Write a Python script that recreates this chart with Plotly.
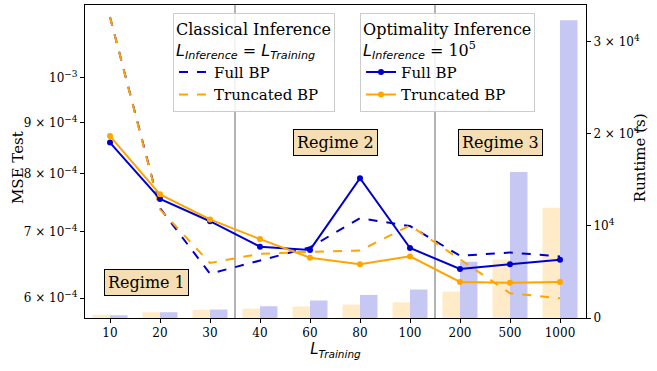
import plotly.graph_objects as go
import math

categories = ["10", "20", "30", "40", "60", "80", "100", "200", "500", "1000"]

# MSE, classical inference (dashed)
mse_classical_full = [1.15e-3, 7.39e-4, 6.35e-4, 6.55e-4, 6.75e-4, 7.22e-4, 7.09e-4, 6.62e-4, 6.67e-4, 6.61e-4]
mse_classical_trunc = [1.15e-3, 7.37e-4, 6.51e-4, 6.65e-4, 6.68e-4, 6.70e-4, 7.10e-4, 6.56e-4, 6.07e-4, 6.00e-4]

# MSE, optimality inference (solid)
mse_opt_full = [8.60e-4, 7.55e-4, 7.17e-4, 6.76e-4, 6.71e-4, 7.92e-4, 6.74e-4, 6.42e-4, 6.49e-4, 6.56e-4]
mse_opt_trunc = [8.73e-4, 7.63e-4, 7.20e-4, 6.88e-4, 6.59e-4, 6.49e-4, 6.61e-4, 6.23e-4, 6.22e-4, 6.23e-4]

# Runtime (s)
runtime_full = [300, 630, 920, 1280, 1900, 2510, 3090, 6120, 15870, 32340]
runtime_trunc = [350, 630, 890, 1030, 1250, 1460, 1710, 2870, 6340, 11970]

SUP = "<sup><span style='font-size:9px'>{}</span></sup>"
left_ticks = [6e-4, 7e-4, 8e-4, 9e-4, 1e-3]
left_ticktext = ["6 × 10" + SUP.format("−4"), "7 × 10" + SUP.format("−4"),
                 "8 × 10" + SUP.format("−4"), "9 × 10" + SUP.format("−4"),
                 "10" + SUP.format("−3")]
right_ticks = [0, 1e4, 2e4, 3e4]
right_ticktext = ["0", "10" + SUP.format("4"), "2 × 10" + SUP.format("4"),
                  "3 × 10" + SUP.format("4")]

BLUE = "#0000CD"
ORANGE = "#FFA500"
SERIF = "DejaVu Serif"
MATH = "<span style='font-family:DejaVu Sans'>"

xs = list(range(len(categories)))

fig = go.Figure()

# Bars (runtime) on primary y (right side)
fig.add_trace(go.Bar(x=xs, y=runtime_trunc, width=0.35, offset=-0.35,
                     marker=dict(color="rgba(255,165,0,0.22)", line=dict(width=0)),
                     showlegend=False, yaxis="y"))
fig.add_trace(go.Bar(x=xs, y=runtime_full, width=0.35, offset=0,
                     marker=dict(color="rgba(0,0,205,0.22)", line=dict(width=0)),
                     showlegend=False, yaxis="y"))

# Classical (dashed)
fig.add_trace(go.Scatter(x=xs, y=mse_classical_full, mode="lines", name="Full BP",
                         line=dict(color=BLUE, width=2, dash="dash"), yaxis="y2",
                         legend="legend"))
fig.add_trace(go.Scatter(x=xs, y=mse_classical_trunc, mode="lines", name="Truncated BP",
                         line=dict(color=ORANGE, width=2, dash="dash"), yaxis="y2",
                         legend="legend"))
# Optimality (solid)
fig.add_trace(go.Scatter(x=xs, y=mse_opt_full, mode="lines+markers", name="Full BP",
                         line=dict(color=BLUE, width=2), marker=dict(size=6, color=BLUE),
                         yaxis="y2", legend="legend2"))
fig.add_trace(go.Scatter(x=xs, y=mse_opt_trunc, mode="lines+markers", name="Truncated BP",
                         line=dict(color=ORANGE, width=2), marker=dict(size=6, color=ORANGE),
                         yaxis="y2", legend="legend2"))

legend_common = dict(
    bgcolor="rgba(255,255,255,0.85)", bordercolor="#cccccc", borderwidth=1,
    font=dict(family=SERIF, size=15, color="black"),
    xanchor="left", yanchor="top", tracegroupgap=0, itemwidth=30,
)

fig.update_layout(
    width=657, height=371,
    margin=dict(l=85, r=71, t=5, b=53, autoexpand=False),
    paper_bgcolor="white", plot_bgcolor="white",
    font=dict(family=SERIF, size=12, color="black"),
    showlegend=True,
    barmode="overlay",
    xaxis=dict(
        tickvals=xs, ticktext=categories, range=[-0.5, 9.52],
        showline=True, linecolor="black", linewidth=1, mirror=True,
        ticks="outside", ticklen=4, tickcolor="black",
        showgrid=False, zeroline=False, automargin=False,
        tickfont=dict(family=SERIF, size=12),
        title=dict(text=MATH + "<i>L</i><sub><i>Training</i></sub></span>",
                   font=dict(size=15), standoff=4),
    ),
    yaxis=dict(
        side="right", range=[0, 3.4e4],
        tickvals=right_ticks, ticktext=right_ticktext,
        showline=True, linecolor="black", linewidth=1,
        ticks="outside", ticklen=4, tickcolor="black",
        showgrid=False, zeroline=False, automargin=False,
        tickfont=dict(family=SERIF, size=12),
    ),
    yaxis2=dict(
        overlaying="y", side="left", type="log",
        range=[math.log10(5.732e-4), math.log10(1.1823e-3)],
        tickvals=left_ticks, ticktext=left_ticktext,
        showline=True, linecolor="black", linewidth=1,
        ticks="outside", ticklen=4, tickcolor="black",
        showgrid=False, zeroline=False, automargin=False,
        tickfont=dict(family=SERIF, size=12),
    ),
    legend=dict(
        x=0.1756, y=0.974,
        title=dict(text="Classical Inference<br>" + MATH + "<i>L</i><sub><i>Inference</i></sub> = <i>L</i><sub><i>Training</i></sub></span>",
                   font=dict(family=SERIF, size=16)),
        **legend_common,
    ),
    legend2=dict(
        x=0.549, y=0.974,
        title=dict(text="Optimality Inference<br>" + MATH + "<i>L</i><sub><i>Inference</i></sub></span> = 10<sup>5</sup>",
                   font=dict(family=SERIF, size=16)),
        **legend_common,
    ),
    shapes=[
        dict(type="line", xref="x", yref="paper", x0=2.5, x1=2.5, y0=0, y1=1,
             line=dict(color="gray", width=1.2), layer="below"),
        dict(type="line", xref="x", yref="paper", x0=6.5, x1=6.5, y0=0, y1=1,
             line=dict(color="gray", width=1.2), layer="below"),
    ],
    annotations=[
        dict(text="MSE Test", x=-0.134, y=0.482, xref="paper", yref="paper",
             showarrow=False, textangle=-90, font=dict(family=SERIF, size=15),
             xanchor="center", yanchor="middle"),
        dict(text="Runtime (s)", x=1.108, y=0.511, xref="paper", yref="paper",
             showarrow=False, textangle=-90, font=dict(family=SERIF, size=15),
             xanchor="center", yanchor="middle"),
        dict(text="Regime 1", x=0.73, y=0.113, xref="x", yref="paper", showarrow=False,
             xanchor="center", yanchor="middle",
             font=dict(family=SERIF, size=16), bgcolor="#F5DEB3", bordercolor="black",
             borderwidth=1, borderpad=3),
        dict(text="Regime 2", x=4.5, y=0.562, xref="x", yref="paper", showarrow=False,
             xanchor="center", yanchor="middle",
             font=dict(family=SERIF, size=16), bgcolor="#F5DEB3", bordercolor="black",
             borderwidth=1, borderpad=3),
        dict(text="Regime 3", x=7.8, y=0.562, xref="x", yref="paper", showarrow=False,
             xanchor="center", yanchor="middle",
             font=dict(family=SERIF, size=16), bgcolor="#F5DEB3", bordercolor="black",
             borderwidth=1, borderpad=3),
    ],
)

fig.write_html("out.html", config={"displayModeBar": False},
               post_script="document.body.style.margin='0';")
